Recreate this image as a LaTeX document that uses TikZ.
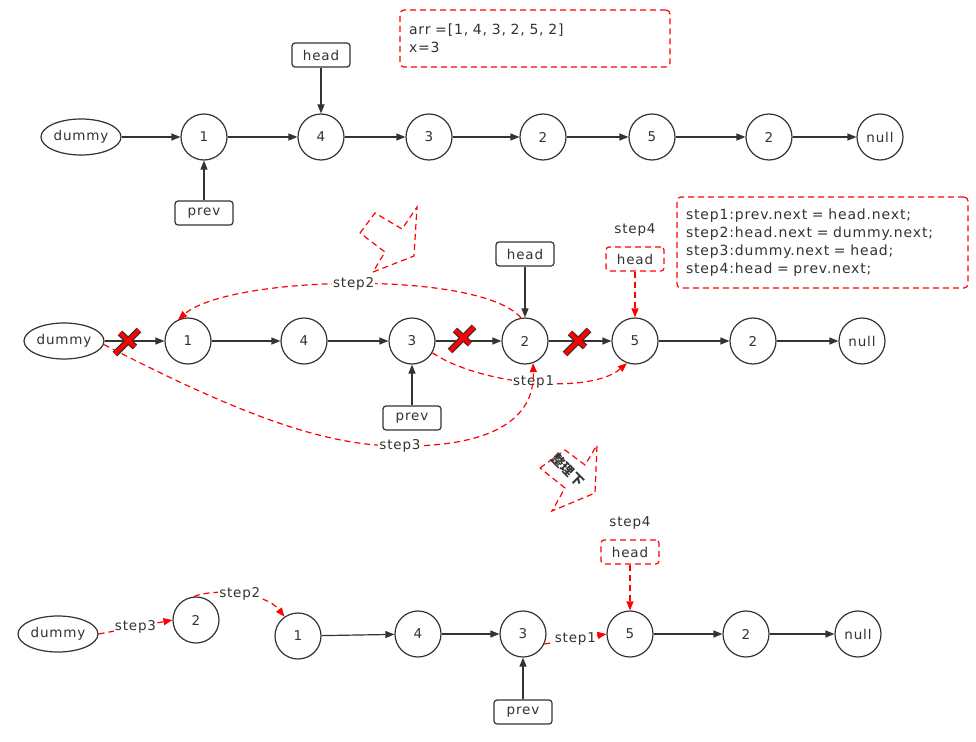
\documentclass[tikz,border=0pt]{standalone}
\usepackage{fontspec}
\setmainfont{DejaVu Sans}[LetterSpace=6]
\newfontfamily\cjk{Noto Sans CJK SC}
\usetikzlibrary{arrows.meta,positioning,shapes.geometric,calc}

\definecolor{ink}{HTML}{333333}
\tikzset{
  every node/.style={font=\fontsize{13.5}{15}\selectfont,text=ink},
  lnode/.style={circle,draw=ink,line width=1.2pt,minimum size=46pt,inner sep=0pt},
  dnode/.style={ellipse,draw=ink,line width=1.2pt,minimum width=80pt,minimum height=36pt,inner sep=0pt},
  tag/.style={draw=ink,line width=1.2pt,rounded corners=3pt,minimum width=58pt,minimum height=24pt,inner sep=0pt},
  redtag/.style={tag,draw=red,dash pattern=on 6pt off 4pt},
  codebox/.style={draw=red,line width=1.2pt,dash pattern=on 6pt off 4pt,rounded corners=4pt,
    inner xsep=9pt,inner ysep=0pt,align=left,font=\fontsize{14}{18}\selectfont},
  link/.style={-{Triangle[length=9pt,width=7pt]},draw=ink,line width=1.2pt},
  redlink/.style={-{Triangle[length=9pt,width=7pt]},draw=red,line width=1.2pt,dash pattern=on 6pt off 4pt},
  lbl/.style={fill=white,inner sep=1pt},
}
\newcommand{\redcross}[1]{%
  \draw[ink,line width=6.5pt] ($(#1)+(-11,12)$) -- ($(#1)+(13,-12)$) ($(#1)+(-6,-9)$) -- ($(#1)+(9,5)$);
  \draw[red,line width=4pt] ($(#1)+(-11,12)$) -- ($(#1)+(13,-12)$) ($(#1)+(-6,-9)$) -- ($(#1)+(9,5)$);}

\begin{document}
\begin{tikzpicture}[x=1pt,y=-1pt,node distance=100pt,on grid]
\useasboundingbox[fill=white] (0,0) rectangle (976,741);

% list before
\node[dnode] (D1) at (81,137) {dummy};
\node[lnode] (A1) [right=123pt of D1] {1};
\node[lnode] (B1) [right=117pt of A1] {4};
\node[lnode] (C1) [right=108pt of B1] {3};
\node[lnode] (E1) [right=114pt of C1] {2};
\node[lnode] (F1) [right=109pt of E1] {5};
\node[lnode] (G1) [right=117pt of F1] {2};
\node[lnode] (N1) [right=111pt of G1] {null};
\node[tag]   (H1) [above=82pt of B1] {head};
\node[tag]   (P1) [below=76pt of A1] {prev};
\node[codebox,minimum width=270pt,minimum height=57pt,text width=252pt] (V) at (535,38.5)
  {\baselineskip=16pt arr =[1, 4, 3, 2, 5, 2]\\x=3};

\path (D1) edge[link] (A1)
      (A1) edge[link] (B1)
      (B1) edge[link] (C1)
      (C1) edge[link] (E1)
      (E1) edge[link] (F1)
      (F1) edge[link] (G1)
      (G1) edge[link] (N1)
      (H1) edge[link] (B1)
      (P1) edge[link] (A1);

% hollow arrow
\draw[red,line width=1.2pt,dash pattern=on 6pt off 4pt] (360,233) -- (375,213) -- (402,229) -- (417,207) -- (414,256) -- (373,272) -- (385,252) -- cycle;

% moving the node
\node[dnode] (D2) at (64,341) {dummy};
\node[lnode] (A2) [right=124pt of D2] {1};
\node[lnode] (B2) [right=116pt of A2] {4};
\node[lnode] (C2) [right=108pt of B2] {3};
\node[lnode] (E2) [right=113pt of C2] {2};
\node[lnode] (F2) [right=110pt of E2] {5};
\node[lnode] (G2) [right=118pt of F2] {2};
\node[lnode] (N2) [right=109pt of G2] {null};
\node[tag]   (H2) [above=87pt of E2] {head};
\node[tag]   (P2) [below=77pt of C2] {prev};
\node[redtag] (R2) [above=82pt of F2] {head};
\node (S2) [above=29pt of R2] {step4};
\node[codebox,minimum width=291pt,minimum height=91pt,text width=273pt] (S) at (822.5,242.5)
  {step1:prev.next = head.next;\\step2:head.next = dummy.next;\\step3:dummy.next = head;\\step4:head = prev.next;};

\path (D2) edge[link] (A2)
      (A2) edge[link] (B2)
      (B2) edge[link] (C2)
      (C2) edge[link] (E2)
      (E2) edge[link] (F2)
      (F2) edge[link] (G2)
      (G2) edge[link] (N2)
      (H2) edge[link] (E2)
      (P2) edge[link] (C2);
\redcross{126,342}
\redcross{461,339}
\redcross{576,342}

\draw[redlink] (E2.100) .. controls (480,270) and (230,275) .. (A2.115) node[pos=0.5,lbl] {step2};
\draw[redlink] (C2.-30) .. controls (480,385) and (590,395) .. (F2.-110) node[pos=0.5,lbl] {step1};
\draw[redlink] (D2.-5) .. controls (250,420) and (330,446) .. (400,446) node[lbl] {step3}
  .. controls (490,447) and (535,420) .. (E2.-70);
\draw[redlink] (R2) -- (F2);

% hollow arrow
\draw[red,line width=1.2pt,dash pattern=on 6pt off 4pt] (540,468) -- (565,450) -- (585,465) -- (597,445) -- (595,493) -- (552,511) -- (565,488) -- cycle;
\node[rotate=-45,inner sep=0pt,font=\cjk\bfseries\fontsize{13}{14}\selectfont] (T) at (568,470) {整理下};

% list after
\node[dnode] (D3) at (58,634) {dummy};
\node[lnode] (E3) at (196,620) {2};
\node[lnode] (A3) at (298,636) {1};
\node[lnode] (B3) at (418,634) {4};
\node[lnode] (C3) [right=105pt of B3] {3};
\node[lnode] (F3) [right=107pt of C3] {5};
\node[lnode] (G3) [right=116pt of F3] {2};
\node[lnode] (N3) [right=112pt of G3] {null};
\node[redtag] (R3) [above=82pt of F3] {head};
\node (S3) [above=29pt of R3] {step4};
\node[tag]   (P3) [below=78pt of C3] {prev};

\path (A3) edge[link] (B3)
      (B3) edge[link] (C3)
      (F3) edge[link] (G3)
      (G3) edge[link] (N3)
      (P3) edge[link] (C3);
\draw[redlink] (D3.east) -- (E3.west) node[pos=0.5,lbl] {step3};
\draw[redlink] (E3.95) .. controls (215,588) and (265,592) .. (A3.125) node[pos=0.5,lbl] {step2};
\draw[redlink] (C3.-25) -- (F3.west) node[pos=0.5,lbl] {step1};
\draw[redlink] (R3) -- (F3);
\end{tikzpicture}
\end{document}
